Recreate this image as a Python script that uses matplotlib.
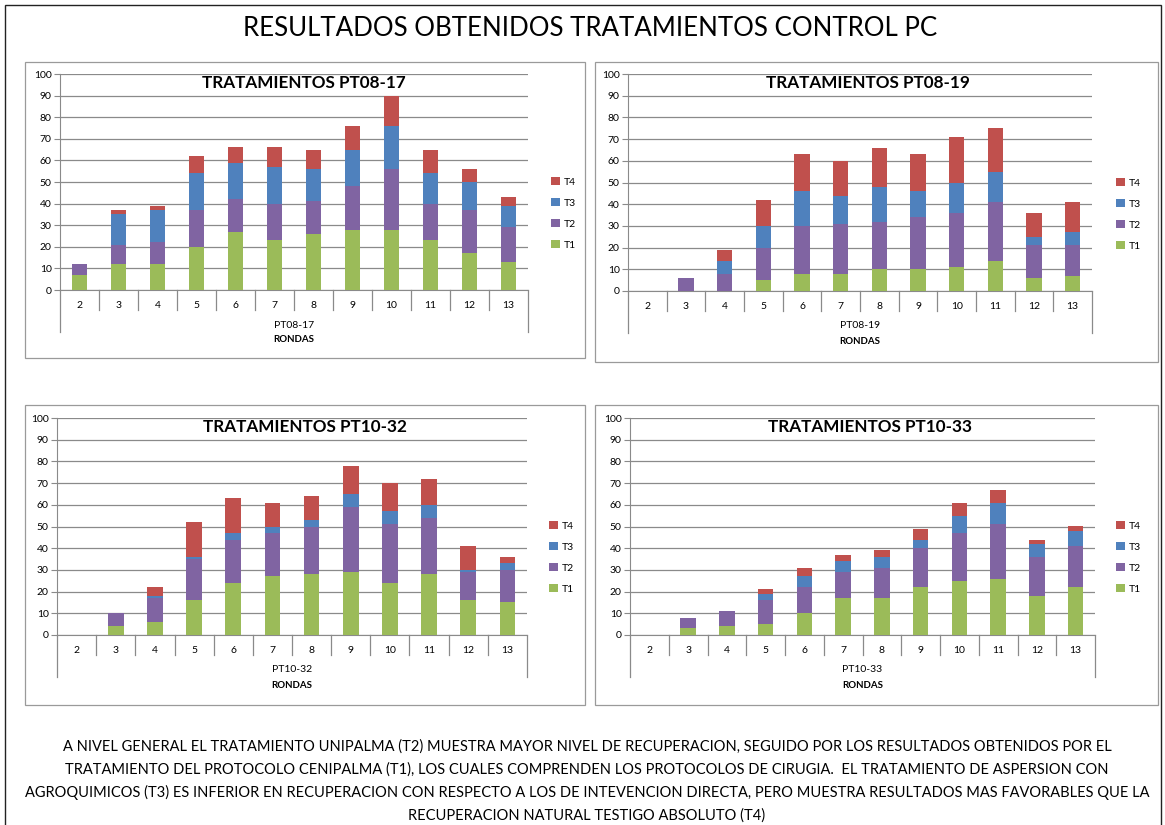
import matplotlib
matplotlib.use('Agg')
import matplotlib.pyplot as plt
from matplotlib.patches import Rectangle, Patch

plt.rcParams['font.family'] = ['Lato', 'DejaVu Sans']

# Rondas (categories)
rondas = ['2', '3', '4', '5', '6', '7', '8', '9', '10', '11', '12', '13']
series = ['T1', 'T2', 'T3', 'T4']

# PT08-17
pt0817_t1 = [7, 12, 12, 20, 27, 23, 26, 28, 28, 23, 17, 13]
pt0817_t2 = [5, 9, 10, 17, 15, 17, 15, 20, 28, 17, 20, 16]
pt0817_t3 = [0, 14, 15, 17, 17, 17, 15, 17, 20, 14, 13, 10]
pt0817_t4 = [0, 2, 2, 8, 7, 9, 9, 11, 14, 11, 6, 4]

# PT08-19
pt0819_t1 = [0, 0, 0, 5, 8, 8, 10, 10, 11, 14, 6, 7]
pt0819_t2 = [0, 6, 8, 15, 22, 23, 22, 24, 25, 27, 15, 14]
pt0819_t3 = [0, 0, 6, 10, 16, 13, 16, 12, 14, 14, 4, 6]
pt0819_t4 = [0, 0, 5, 12, 17, 16, 18, 17, 21, 20, 11, 14]

# PT10-32
pt1032_t1 = [0, 4, 6, 16, 24, 27, 28, 29, 24, 28, 16, 15]
pt1032_t2 = [0, 6, 11, 19, 20, 20, 22, 30, 27, 26, 13, 15]
pt1032_t3 = [0, 0, 1, 1, 3, 3, 3, 6, 6, 6, 1, 3]
pt1032_t4 = [0, 0, 4, 16, 16, 11, 11, 13, 13, 12, 11, 3]

# PT10-33
pt1033_t1 = [0, 3, 4, 5, 10, 17, 17, 22, 25, 26, 18, 22]
pt1033_t2 = [0, 5, 7, 11, 12, 12, 14, 18, 22, 25, 18, 19]
pt1033_t3 = [0, 0, 0, 3, 5, 5, 5, 4, 8, 10, 6, 7]
pt1033_t4 = [0, 0, 0, 2, 4, 3, 3, 5, 6, 6, 2, 2]

colors = ['#9BBB59', '#8064A2', '#4F81BD', '#C0504D']
grid_col = '#8a8a8a'

W, H = 1165, 825
fig = plt.figure(figsize=(W / 100, H / 100), dpi=100)


def fx(px):
    return px / W


def fy(py):
    return 1 - py / H


# outer border and chart boxes (pixel coords)
fig.add_artist(Rectangle((fx(5), fy(830)), fx(1161 - 5), (830 - 5) / H,
                         transform=fig.transFigure, fill=False, ec='#222222', lw=1.0))
boxes = [(25, 62, 585, 358), (595, 62, 1158, 362), (25, 405, 585, 705), (595, 405, 1158, 705)]
for x0, y0, x1, y1 in boxes:
    fig.add_artist(Rectangle((fx(x0), fy(y1)), fx(x1 - x0), (y1 - y0) / H,
                             transform=fig.transFigure, fill=False, ec='#9a9a9a', lw=0.9))

fig.text(fx(590), fy(29), 'RESULTADOS OBTENIDOS TRATAMIENTOS CONTROL PC',
         ha='center', va='center', fontsize=18.6)

charts = [
    ('PT08-17', [pt0817_t1, pt0817_t2, pt0817_t3, pt0817_t4], (60, 74, 528, 290), 304, (550, 182)),
    ('PT08-19', [pt0819_t1, pt0819_t2, pt0819_t3, pt0819_t4], (628, 74, 1092, 291), 868, (1115, 183)),
    ('PT10-32', [pt1032_t1, pt1032_t2, pt1032_t3, pt1032_t4], (57, 418, 527, 635), 305, (548, 526)),
    ('PT10-33', [pt1033_t1, pt1033_t2, pt1033_t3, pt1033_t4], (630, 418, 1095, 635), 870, (1115, 526)),
]

x = list(range(len(rondas)))
for name, data, (l, t, r, b), title_x, (lgx, lgy) in charts:
    ax = fig.add_axes([fx(l), fy(b), fx(r - l), (b - t) / H])
    hpx = b - t
    bottom = [0] * len(rondas)
    handles = []
    for vals, c, s in zip(data, colors, series):
        ax.bar(x, vals, width=0.4, bottom=bottom, color=c, edgecolor='none', zorder=3)
        bottom = [bo + v for bo, v in zip(bottom, vals)]
        handles.append(Patch(facecolor=c, label=s))

    ax.set_xlim(-0.5, len(rondas) - 0.5)
    ax.set_ylim(0, 100)
    ax.set_yticks(range(0, 101, 10))
    ax.yaxis.grid(True, color=grid_col, lw=0.9, zorder=0)
    ax.set_xticks(x)
    ax.set_xticklabels(rondas)
    ax.tick_params(axis='x', length=0, pad=8, labelsize=7.5)
    ax.tick_params(axis='y', length=4, width=0.8, color=grid_col, labelsize=7.5, pad=2)
    for sp in ['top', 'right']:
        ax.spines[sp].set_visible(False)
    ax.spines['left'].set_color(grid_col)
    ax.spines['bottom'].set_color(grid_col)

    # multi-level category separators
    tr = ax.get_xaxis_transform()
    for i in range(len(rondas) + 1):
        depth = 42 if i in (0, len(rondas)) else 20
        ax.plot([i - 0.5, i - 0.5], [0, -depth / hpx], transform=tr,
                color=grid_col, lw=0.9, clip_on=False)

    ax.text(0.5, -35 / hpx, name, transform=ax.transAxes, ha='center', va='center', fontsize=7.5)
    ax.text(0.5, -50 / hpx, 'RONDAS', transform=ax.transAxes, ha='center', va='center',
            fontsize=7, fontweight='bold')

    fig.text(fx(title_x), fy(t + 9), 'TRATAMIENTOS ' + name, ha='center', va='center',
             fontsize=12.3, fontweight='bold')

    fig.legend(handles=handles[::-1], loc='upper left',
               bbox_to_anchor=(fx(lgx - 4), fy(lgy - 10)), frameon=False,
               fontsize=7.5, handlelength=0.8, handleheight=0.8, handletextpad=0.4,
               labelspacing=1.1, borderpad=0)

text_lines = [
    'A NIVEL GENERAL EL TRATAMIENTO UNIPALMA (T2) MUESTRA MAYOR NIVEL DE RECUPERACION, SEGUIDO POR LOS RESULTADOS OBTENIDOS POR EL',
    'TRATAMIENTO DEL PROTOCOLO CENIPALMA (T1), LOS CUALES COMPRENDEN LOS PROTOCOLOS DE CIRUGIA.  EL TRATAMIENTO DE ASPERSION CON',
    'AGROQUIMICOS (T3) ES INFERIOR EN RECUPERACION CON RESPECTO A LOS DE INTEVENCION DIRECTA, PERO MUESTRA RESULTADOS MAS FAVORABLES QUE LA',
    'RECUPERACION NATURAL TESTIGO ABSOLUTO (T4)',
]
for i, line in enumerate(text_lines):
    fig.text(fx(587), fy(747 + i * 22.7), line, ha='center', va='center', fontsize=10.5)

fig.savefig('out.png', dpi=100)
